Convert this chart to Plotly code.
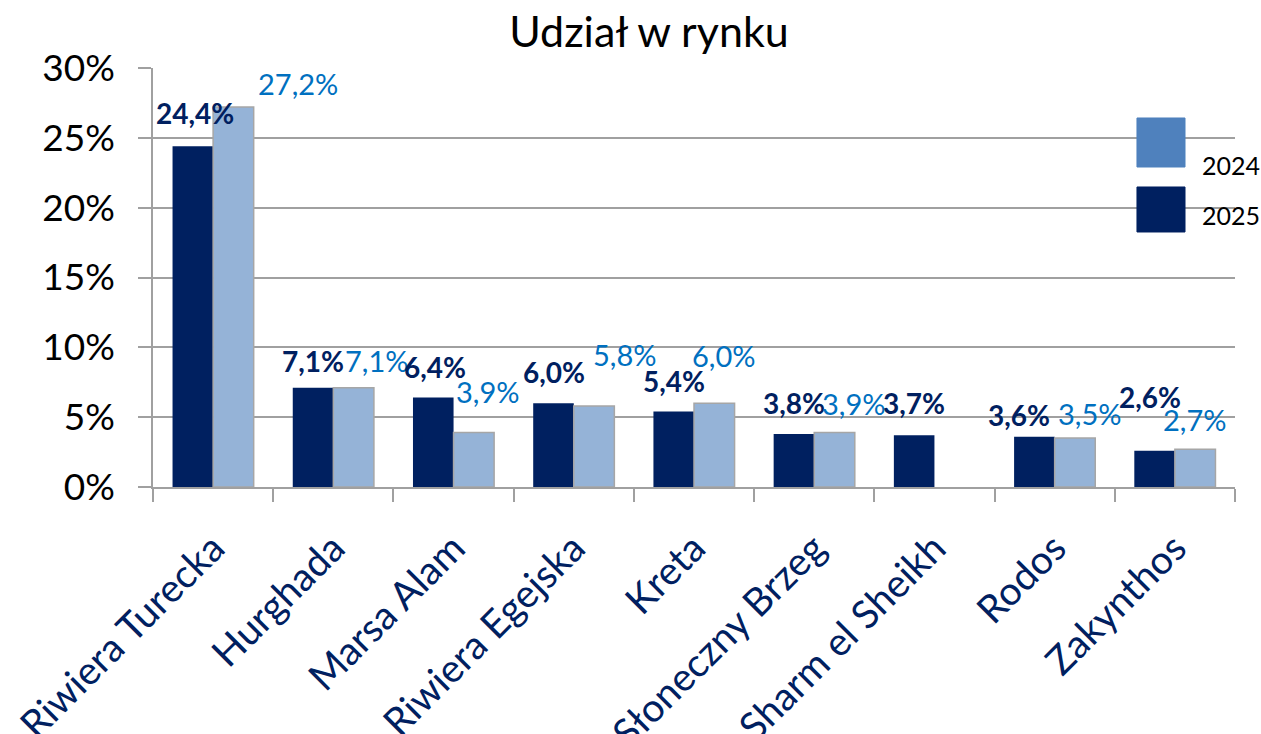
import plotly.graph_objects as go

categories = ["Riwiera Turecka", "Hurghada", "Marsa Alam", "Riwiera Egejska", "Kreta",
              "Słoneczny Brzeg", "Sharm el Sheikh", "Rodos", "Zakynthos"]
share_2025 = [24.4, 7.1, 6.4, 6.0, 5.4, 3.8, 3.7, 3.6, 2.6]
share_2024 = [27.2, 7.1, 3.9, 5.8, 6.0, 3.9, None, 3.5, 2.7]
y_ticks = [0, 5, 10, 15, 20, 25, 30]
y_tick_labels = ["0%", "5%", "10%", "15%", "20%", "25%", "30%"]

# label placement tweaks (pixels), as in the original chart
dx_2025 = [2, 0, 1, 0, 0, 0, 0, -16, -5]
dy_2025 = [33, 27, 31, 31, 31, 31, 32, 22, 54]
dx_2024 = [65, 23, 14, 31, 9, 19, 0, 15, 0]
dy_2024 = [24, 27, 41, 51, 48, 29, 0, 25, 30]

NAVY = "#002060"
LIGHT = "#95B3D7"
LBLUE = "#0070C0"
FONT = "Lato"

fig = go.Figure()
fig.add_bar(x=categories, y=share_2025, name="2025", marker=dict(color=NAVY, line=dict(width=0)))
fig.add_bar(x=categories, y=share_2024, name="2024",
            marker=dict(color=LIGHT, line=dict(color="#A6A6A6", width=1.5)))

ann = []
def fmt(v):
    return f"{v:.1f}".replace(".", ",") + "%"

for i, c in enumerate(categories):
    v = share_2025[i]
    ann.append(dict(x=c, y=v, xref="x", yref="y", text=fmt(v), showarrow=False,
                    xshift=-20 + dx_2025[i], yshift=dy_2025[i], yanchor="middle",
                    font=dict(family=FONT, size=28, color=NAVY, weight="bold")))
    v = share_2024[i]
    if v is not None:
        ann.append(dict(x=c, y=v, xref="x", yref="y", text=fmt(v), showarrow=False,
                        xshift=20 + dx_2024[i], yshift=dy_2024[i], yanchor="middle",
                        font=dict(family=FONT, size=29, color=LBLUE)))

# custom legend
legend_items = [("2024", "#4F81BD", 0.7637, 0.8807, 0.7685), ("2025", NAVY, 0.6086, 0.7160, 0.6492)]
shapes = []
for name, col, y0, y1, ty in legend_items:
    shapes.append(dict(type="rect", xref="paper", yref="paper", x0=0.9094, x1=0.9538, y0=y0, y1=y1,
                       fillcolor=col, line=dict(color=col, width=1), layer="above"))
    ann.append(dict(x=0.9677, y=ty, xref="paper", yref="paper", text=name, showarrow=False,
                    xanchor="left", yanchor="middle", font=dict(family=FONT, size=25, color="black")))

fig.update_layout(
    width=1261, height=734,
    margin=dict(l=153, r=26, t=68, b=247),
    paper_bgcolor="white", plot_bgcolor="white",
    barmode="group", bargap=0.325, bargroupgap=0,
    showlegend=False,
    title=dict(text="Udział w rynku", x=649 / 1261, xref="container", xanchor="center",
               y=1 - 32 / 734, yref="container", yanchor="middle",
               font=dict(family=FONT, size=43, color="black")),
    annotations=ann, shapes=shapes,
    font=dict(family=FONT),
)
fig.update_xaxes(
    tickangle=-45, tickson="boundaries", ticks="outside", ticklen=13, tickcolor="#A0A0A0", tickwidth=1.5,
    showline=True, linecolor="#A0A0A0", linewidth=1.5, showgrid=False, ticklabelstandoff=21,
    automargin=False,
    tickfont=dict(family=FONT, size=39, color=NAVY),
)
fig.update_yaxes(
    range=[0, 30], tickvals=y_ticks, ticktext=y_tick_labels,
    ticks="outside", ticklen=13, tickcolor="#A0A0A0", tickwidth=1.5,
    showline=True, linecolor="#A0A0A0", linewidth=1.5, ticklabelstandoff=16,
    showgrid=True, gridcolor="#A0A0A0", gridwidth=1.5, zeroline=False, automargin=False,
    tickfont=dict(family=FONT, size=37, color="black"),
)

fig.write_html("out.html", config={"displayModeBar": False},
               post_script="document.body.style.margin='0';document.body.style.overflow='hidden';")
